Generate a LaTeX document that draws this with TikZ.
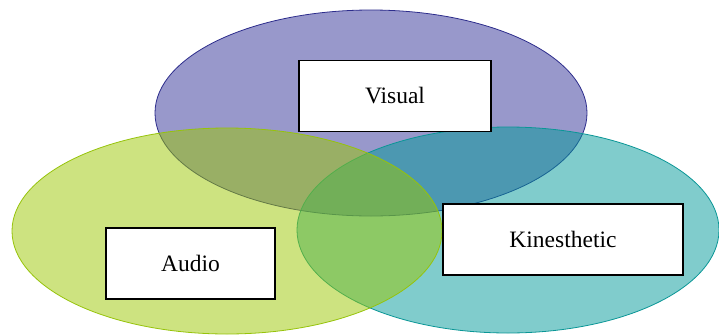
\documentclass[tikz,border=0pt]{standalone}
\usepackage{fontspec}
\setmainfont{Liberation Serif}
\usepackage{tikz}
\usetikzlibrary{shapes}
\usetikzlibrary{positioning}
\definecolor{visualfill}{RGB}{49,49,151}
\definecolor{visualedge}{RGB}{45,45,140}
\definecolor{audiofill}{RGB}{155,199,1}
\definecolor{audioedge}{RGB}{150,195,10}
\definecolor{kinfill}{RGB}{1,153,153}
\definecolor{kinedge}{RGB}{10,150,150}
\tikzstyle{set} = [ellipse, inner sep=0pt, line width=0.8pt,
minimum width=430pt, minimum height=206pt, fill opacity=0.5]
\tikzstyle{tag} = [rectangle, draw=black, fill=white, line width=1.8pt,
minimum height=71pt, inner sep=0pt, font=\fontsize{23.5}{26}\selectfont]

\begin{document}
\begin{tikzpicture}[x=1pt, y=-1pt]
  \useasboundingbox (0,0) rectangle (719,335);
  % sets
  \node[set, draw=visualedge, fill=visualfill, minimum width=432pt] (V) at (371,113) {};
  \node[set, draw=kinedge, fill=kinfill, minimum width=422pt] (K) at (508,230) {};
  \node[set, draw=audioedge, fill=audiofill] (A) at (227,231) {};
  % labels
  \node[tag, minimum width=192pt] (Vtag) at (395,96) {Visual};
  \node[tag, minimum width=169pt] (Atag) at (190.5,263.5) {Audio};
  \node[tag, minimum width=240pt] (Ktag) at (563,239.5) {Kinesthetic};
\end{tikzpicture}
\end{document}
